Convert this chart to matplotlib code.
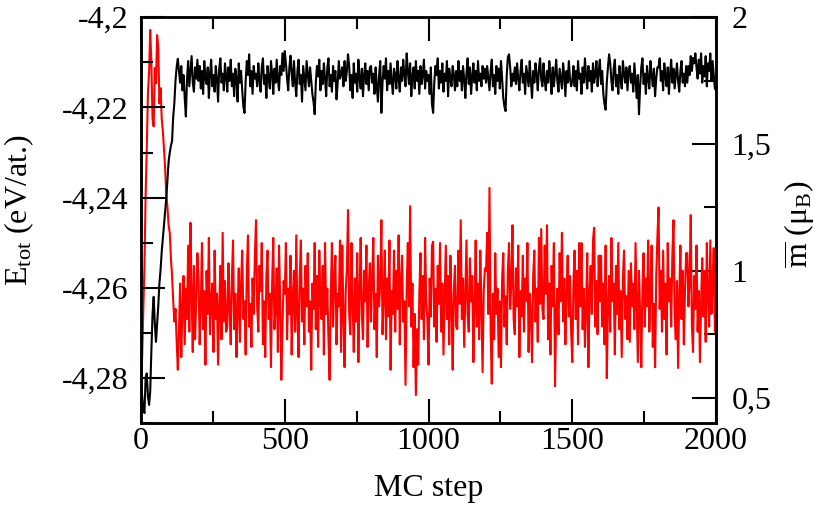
import numpy as np
import matplotlib
matplotlib.use("Agg")
import matplotlib.pyplot as plt
from matplotlib.ticker import MultipleLocator, FuncFormatter

plt.rcParams['font.family'] = ['Liberation Serif', 'DejaVu Serif']
plt.rcParams['mathtext.fontset'] = 'custom'
plt.rcParams['mathtext.rm'] = 'Liberation Serif'
plt.rcParams['mathtext.it'] = 'Liberation Serif:italic'

# MC steps (sampled every 4 steps)
mc_step = np.arange(0, 2001, 4)

# total energy (eV/at.), 25 values per 100 steps
e_tot = [
    -4.281, -4.284, -4.287, -4.2878, -4.280, -4.279, -4.284, -4.286, -4.283, -4.274, -4.266, -4.262, -4.268,
    -4.272, -4.268, -4.264, -4.259, -4.256, -4.252, -4.249, -4.246, -4.243, -4.240, -4.236, -4.232,
    -4.230, -4.2285, -4.2274, -4.222, -4.219, -4.214, -4.211, -4.2092, -4.2119, -4.2145, -4.2108, -4.2162, -4.2128,
    -4.2179, -4.2220, -4.2136, -4.2097, -4.2153, -4.2119, -4.2086, -4.2145, -4.2165, -4.2111, -4.2136, -4.2094,
    -4.2141, -4.2108, -4.2158, -4.2119, -4.2170, -4.2097, -4.2136, -4.2148, -4.2111, -4.2179, -4.2125, -4.2094, -4.2153,
    -4.2128, -4.2165, -4.2108, -4.2136, -4.2187, -4.2114, -4.2091, -4.2145, -4.2125, -4.2162, -4.2102, -4.2131,
    -4.2165, -4.2111, -4.2141, -4.2094, -4.2153, -4.2125, -4.2175, -4.2114, -4.2136, -4.2187, -4.2102, -4.2145, -4.2119,
    -4.2162, -4.2198, -4.2212, -4.2141, -4.2097, -4.2128, -4.2082, -4.2153, -4.2119, -4.2170, -4.2108, -4.2136,
    -4.2125, -4.2153, -4.2102, -4.2141, -4.2165, -4.2111, -4.2091, -4.2148, -4.2128, -4.2179, -4.2108, -4.2136, -4.2158,
    -4.2097, -4.2125, -4.2170, -4.2114, -4.2145, -4.2094, -4.2136, -4.2162, -4.2108, -4.2128, -4.2080, -4.2119,
    -4.2075, -4.2102, -4.2136, -4.2162, -4.2111, -4.2085, -4.2125, -4.2153, -4.2097, -4.2145, -4.2175, -4.2119, -4.2094,
    -4.2148, -4.2128, -4.2187, -4.2108, -4.2136, -4.2162, -4.2097, -4.2125, -4.2153, -4.2111, -4.2141, -4.2170,
    -4.2187, -4.2215, -4.2145, -4.2108, -4.2131, -4.2094, -4.2162, -4.2119, -4.2148, -4.2102, -4.2136, -4.2175, -4.2111,
    -4.2091, -4.2153, -4.2128, -4.2165, -4.2108, -4.2141, -4.2119, -4.2182, -4.2145, -4.2097, -4.2136, -4.2125,
    -4.2111, -4.2153, -4.2097, -4.2141, -4.2119, -4.2082, -4.2108, -4.2162, -4.2128, -4.2179, -4.2102, -4.2145, -4.2125,
    -4.2165, -4.2094, -4.2136, -4.2158, -4.2114, -4.2175, -4.2128, -4.2102, -4.2148, -4.2119, -4.2162, -4.2111,
    -4.2108, -4.2145, -4.2125, -4.2170, -4.2111, -4.2153, -4.2187, -4.2128, -4.2097, -4.2212, -4.2145, -4.2108, -4.2136,
    -4.2091, -4.2162, -4.2119, -4.2148, -4.2102, -4.2141, -4.2170, -4.2114, -4.2128, -4.2158, -4.2097, -4.2136,
    -4.2165, -4.2111, -4.2141, -4.2094, -4.2128, -4.2153, -4.2080, -4.2119, -4.2148, -4.2102, -4.2175, -4.2131, -4.2111,
    -4.2158, -4.2097, -4.2141, -4.2119, -4.2170, -4.2108, -4.2148, -4.2128, -4.2094, -4.2158, -4.2119, -4.2141,
    -4.2128, -4.2170, -4.2111, -4.2193, -4.2212, -4.2145, -4.2108, -4.2128, -4.2091, -4.2158, -4.2119, -4.2145, -4.2102,
    -4.2165, -4.2125, -4.2141, -4.2097, -4.2175, -4.2114, -4.2136, -4.2153, -4.2108, -4.2128, -4.2162, -4.2119,
    -4.2153, -4.2097, -4.2141, -4.2119, -4.2162, -4.2108, -4.2136, -4.2179, -4.2125, -4.2091, -4.2148, -4.2111, -4.2170,
    -4.2131, -4.2102, -4.2145, -4.2119, -4.2162, -4.2097, -4.2141, -4.2125, -4.2153, -4.2108, -4.2136, -4.2114,
    -4.2145, -4.2108, -4.2136, -4.2162, -4.2119, -4.2094, -4.2153, -4.2128, -4.2170, -4.2108, -4.2141, -4.2114, -4.2158,
    -4.2097, -4.2136, -4.2179, -4.2198, -4.2208, -4.2128, -4.2088, -4.2082, -4.2111, -4.2153, -4.2125, -4.2141,
    -4.2111, -4.2148, -4.2102, -4.2136, -4.2162, -4.2119, -4.2094, -4.2145, -4.2125, -4.2170, -4.2108, -4.2131, -4.2153,
    -4.2097, -4.2141, -4.2179, -4.2119, -4.2145, -4.2102, -4.2128, -4.2162, -4.2114, -4.2091, -4.2138, -4.2153,
    -4.2102, -4.2141, -4.2162, -4.2119, -4.2145, -4.2097, -4.2128, -4.2170, -4.2111, -4.2153, -4.2125, -4.2094, -4.2141,
    -4.2165, -4.2114, -4.2136, -4.2158, -4.2102, -4.2128, -4.2175, -4.2119, -4.2145, -4.2097, -4.2136, -4.2153,
    -4.2141, -4.2108, -4.2153, -4.2119, -4.2162, -4.2097, -4.2136, -4.2125, -4.2170, -4.2111, -4.2145, -4.2091, -4.2131,
    -4.2158, -4.2108, -4.2141, -4.2119, -4.2165, -4.2102, -4.2145, -4.2128, -4.2097, -4.2153, -4.2119, -4.2094,
    -4.2148, -4.2119, -4.2170, -4.2193, -4.2205, -4.2145, -4.2111, -4.2082, -4.2102, -4.2141, -4.2162, -4.2114, -4.2094,
    -4.2153, -4.2128, -4.2170, -4.2108, -4.2136, -4.2158, -4.2097, -4.2125, -4.2145, -4.2111, -4.2162, -4.2119,
    -4.2108, -4.2145, -4.2125, -4.2165, -4.2102, -4.2141, -4.2179, -4.2128, -4.2215, -4.2153, -4.2111, -4.2091, -4.2148,
    -4.2125, -4.2170, -4.2108, -4.2136, -4.2158, -4.2097, -4.2128, -4.2153, -4.2114, -4.2175, -4.2136, -4.2111,
    -4.2111, -4.2091, -4.2141, -4.2119, -4.2162, -4.2102, -4.2131, -4.2153, -4.2111, -4.2170, -4.2125, -4.2094, -4.2145,
    -4.2114, -4.2158, -4.2131, -4.2102, -4.2141, -4.2165, -4.2119, -4.2097, -4.2145, -4.2125, -4.2153, -4.2108,
    -4.2145, -4.2108, -4.2128, -4.2086, -4.2119, -4.2090, -4.2102, -4.2080, -4.2111, -4.2136, -4.2094, -4.2125, -4.2080,
    -4.2145, -4.2108, -4.2131, -4.2086, -4.2153, -4.2102, -4.2119, -4.2080, -4.2141, -4.2097, -4.2128, -4.2158,
    -4.2162,
]

# mean magnetic moment (mu_B), 25 values per 100 steps
m_mean = [
    0.58, 0.66, 0.85, 1.02, 1.30, 1.48, 1.70, 1.78, 1.95, 1.82, 1.60, 1.57, 1.80,
    1.74, 1.93, 1.88, 1.66, 1.72, 1.60, 1.55, 1.48, 1.40, 1.30, 1.25, 1.18,
    1.15, 1.05, 0.98, 0.88, 0.80, 0.85, 0.72, 0.61, 0.76, 0.95, 0.66, 0.86, 0.98,
    0.71, 0.93, 0.81, 1.10, 0.76, 1.19, 0.91, 0.68, 1.02, 0.73, 0.88, 1.07,
    0.97, 0.71, 0.86, 1.11, 0.77, 0.92, 0.63, 1.00, 0.83, 1.13, 0.75, 0.88, 0.95,
    0.68, 1.08, 0.81, 0.91, 0.63, 0.86, 1.02, 0.73, 1.15, 0.80, 0.96, 0.76,
    0.78, 1.03, 0.86, 0.71, 0.97, 1.12, 0.77, 0.91, 0.66, 0.85, 1.01, 0.72, 0.95,
    1.08, 0.81, 0.88, 0.67, 1.00, 1.14, 0.78, 0.87, 0.70, 0.97, 0.83, 1.06,
    1.20, 0.86, 0.76, 1.02, 0.92, 1.11, 0.71, 0.88, 0.66, 0.98, 1.08, 0.81, 0.91,
    0.62, 0.95, 1.13, 0.77, 0.85, 1.01, 0.68, 1.10, 0.88, 0.57, 0.78, 0.96,
    0.91, 1.11, 0.73, 0.93, 0.83, 1.06, 0.67, 0.90, 1.00, 0.76, 1.14, 0.82, 0.66,
    0.97, 1.12, 0.80, 0.93, 0.71, 1.02, 0.86, 1.07, 0.76, 0.88, 0.61, 0.95,
    0.85, 1.11, 0.77, 0.98, 0.70, 1.08, 0.88, 0.81, 1.02, 0.67, 1.11, 0.83, 0.93,
    0.73, 0.57, 0.90, 1.11, 0.78, 0.97, 1.06, 0.71, 0.91, 0.86, 1.12, 0.68,
    1.10, 0.82, 0.62, 0.92, 1.01, 1.24, 0.83, 0.75, 1.11, 0.88, 0.68, 0.97, 0.80,
    1.07, 0.64, 0.91, 1.13, 0.83, 0.73, 1.00, 0.88, 1.10, 0.70, 0.93, 1.03,
    0.80, 0.98, 1.13, 0.77, 0.91, 0.66, 1.06, 0.86, 0.95, 1.20, 0.75, 0.90, 1.08,
    0.73, 0.97, 0.82, 1.12, 0.61, 0.92, 0.83, 1.08, 0.76, 1.00, 0.85, 1.14,
    0.71, 0.96, 1.06, 0.80, 0.88, 0.55, 0.93, 1.11, 0.86, 1.255, 0.78, 0.95, 0.62,
    0.83, 0.51, 0.77, 0.63, 0.91, 1.07, 0.81, 0.98, 0.73, 1.13, 0.88, 0.81,
    0.63, 0.97, 0.82, 1.10, 1.115, 0.78, 0.93, 0.72, 1.02, 0.87, 1.11, 0.76, 0.95,
    0.67, 0.88, 1.10, 0.81, 0.98, 0.71, 1.06, 0.86, 0.61, 0.92, 1.02, 0.78,
    0.77, 1.08, 0.87, 1.20, 0.81, 0.97, 0.70, 0.91, 1.12, 0.83, 0.76, 1.05, 0.88,
    0.98, 0.64, 0.85, 1.12, 0.78, 0.95, 0.73, 1.08, 0.86, 0.60, 0.92, 1.01,
    1.00, 1.15, 0.83, 1.327, 0.77, 0.555, 0.91, 0.73, 1.07, 0.83, 0.93, 0.66, 0.88,
    0.62, 0.97, 1.07, 0.78, 0.90, 0.71, 1.00, 1.11, 0.85, 0.95, 1.18, 0.81,
    0.75, 1.01, 0.86, 1.10, 0.66, 0.92, 0.82, 1.06, 0.76, 0.97, 0.88, 1.11, 0.68,
    0.91, 0.83, 0.64, 0.98, 1.08, 0.80, 0.93, 0.72, 1.13, 0.87, 1.165, 0.85,
    0.81, 1.10, 0.91, 1.18, 0.73, 0.95, 0.67, 1.02, 0.86, 1.11, 0.545, 0.83, 0.93,
    0.75, 1.07, 0.88, 1.15, 0.80, 0.97, 0.71, 0.91, 1.06, 0.82, 0.98, 0.76,
    0.64, 0.95, 1.08, 0.81, 1.00, 0.71, 1.11, 0.86, 1.11, 0.77, 0.93, 0.70, 0.85,
    1.07, 0.62, 0.91, 1.02, 0.83, 1.12, 1.17, 0.78, 0.96, 0.75, 1.06, 0.88,
    1.06, 0.78, 0.95, 0.71, 1.10, 0.577, 0.86, 0.98, 0.76, 1.13, 0.88, 0.95, 0.67,
    1.02, 0.83, 1.11, 0.77, 0.92, 0.66, 0.97, 1.08, 0.81, 0.90, 0.73, 1.00,
    0.72, 1.03, 0.86, 0.95, 0.77, 1.11, 0.88, 0.64, 1.00, 0.83, 0.62, 0.93, 1.07,
    0.78, 0.97, 0.86, 1.12, 0.76, 0.91, 1.10, 0.70, 0.87, 0.62, 0.98, 1.13,
    1.25, 0.85, 1.00, 0.76, 1.08, 0.81, 0.95, 0.67, 1.11, 0.88, 0.97, 0.78, 1.06,
    1.20, 0.83, 0.73, 0.96, 0.617, 0.90, 1.10, 0.81, 1.00, 0.71, 0.92, 1.07,
    1.07, 0.86, 0.96, 1.22, 0.78, 0.68, 0.98, 0.85, 1.10, 0.76, 0.92, 0.64, 0.88,
    1.05, 0.82, 1.00, 0.72, 1.11, 0.90, 0.78, 1.12, 0.83, 0.95, 1.09, 0.76,
    0.86,
]


def comma_fmt(val, pos):
    # decimal comma like the original
    return ('%g' % round(val, 4)).replace('.', ',')


fig = plt.figure(figsize=(8.3, 5.08), dpi=100)
ax = fig.add_axes([0.1699, 0.1673, 0.6928, 0.7986])
ax2 = ax.twinx()

ax2.plot(mc_step, m_mean, color='red', lw=1.5)
ax.plot(mc_step, e_tot, color='black', lw=1.5)

# black curve above the red one
ax.set_zorder(ax2.get_zorder() + 1)
ax.patch.set_visible(False)

ax.set_xlim(0, 2000)
ax.set_ylim(-4.29, -4.2)
ax2.set_ylim(0.4, 2.0)

ax.xaxis.set_major_locator(MultipleLocator(500))
ax.xaxis.set_minor_locator(MultipleLocator(250))
ax.yaxis.set_major_locator(MultipleLocator(0.02))
ax.yaxis.set_minor_locator(MultipleLocator(0.01))
ax2.yaxis.set_major_locator(MultipleLocator(0.5))
ax2.yaxis.set_minor_locator(MultipleLocator(0.25))
ax.yaxis.set_major_formatter(FuncFormatter(comma_fmt))
ax2.yaxis.set_major_formatter(FuncFormatter(comma_fmt))

fs = 23
ax.tick_params(axis='x', which='both', direction='in', top=True, bottom=True,
               labelsize=fs, pad=3, width=1.5)
ax.tick_params(axis='y', which='both', direction='in', left=True, right=False,
               labelsize=fs, pad=9, width=1.5)
ax2.tick_params(axis='y', which='both', direction='in', right=True, left=False,
                labelsize=fs, pad=11, width=1.5)
for a in (ax, ax2):
    a.tick_params(which='major', length=17)
    a.tick_params(which='minor', length=8.5)
    for s in a.spines.values():
        s.set_linewidth(1.8)

ax.set_xlabel('MC step', fontsize=fs)
ax.set_ylabel(r'E$_{\mathrm{tot}}$ (eV/at.)', fontsize=fs)
ax2.set_ylabel(r'$\overline{\mathrm{m}}$ (μ$_{\mathrm{B}}$)', fontsize=fs)
ax.xaxis.set_label_coords(0.5, -0.125)
ax.yaxis.set_label_coords(-0.182, 0.525)
ax2.yaxis.set_label_coords(1.115, 0.49)

fig.savefig('out.png', dpi=100)
